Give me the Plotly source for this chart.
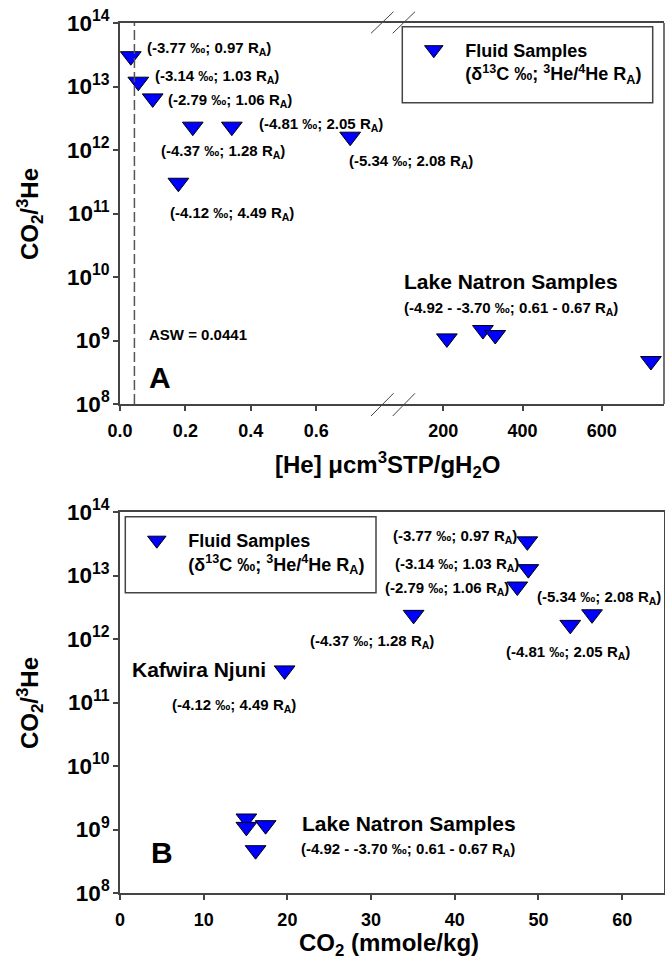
import plotly.graph_objects as go

# ---------------- data ----------------
# Panel A: [He] (ucm3STP/gH2O) vs CO2/3He
he_fluid = [0.033, 0.056, 0.100, 0.2226, 0.342, 0.1786, 0.704]
ratio_fluid_a = [3.0e13, 1.19e13, 6.5e12, 2.33e12, 2.33e12, 3.05e11, 1.62e12]
he_natron = [209, 300, 331, 724]
ratio_natron_a = [1.08e9, 1.46e9, 1.22e9, 4.75e8]
asw_he = 0.0441
he_ticks_left = [0.0, 0.2, 0.4, 0.6]
he_ticks_right = [200, 400, 600]

# Panel B: CO2 (mmole/kg) vs CO2/3He
co2_fluid = [48.67, 48.79, 47.47, 35.08, 56.4, 53.8, 19.67]
ratio_fluid_b = [3.45e13, 1.26e13, 6.7e12, 2.4e12, 2.45e12, 1.67e12, 3.2e11]
co2_natron = [15.1, 15.1, 17.4, 16.2]
ratio_natron_b = [1.49e9, 1.1e9, 1.17e9, 4.72e8]

SUBA = "R<sub>A</sub>"
# labels
labels_a = [f"(-3.77 ‰; 0.97 {SUBA})", f"(-3.14 ‰; 1.03 {SUBA})",
            f"(-2.79 ‰; 1.06 {SUBA})", f"(-4.81 ‰; 2.05 {SUBA})",
            f"(-4.37 ‰; 1.28 {SUBA})", f"(-4.12 ‰; 4.49 {SUBA})",
            f"(-5.34 ‰; 2.08 {SUBA})"]
labels_b = [f"(-3.77 ‰; 0.97 {SUBA})", f"(-3.14 ‰; 1.03 {SUBA})",
            f"(-2.79 ‰; 1.06 {SUBA})", f"(-5.34 ‰; 2.08 {SUBA})",
            f"(-4.37 ‰; 1.28 {SUBA})", f"(-4.81 ‰; 2.05 {SUBA})",
            f"(-4.12 ‰; 4.49 {SUBA})"]
natron_title = "Lake Natron Samples"
natron_range = f"(-4.92 - -3.70 ‰; 0.61 - 0.67 {SUBA})"
legend_text = "Fluid Samples<br>(δ<sup>13</sup>C ‰; <sup>3</sup>He/<sup>4</sup>He R<sub>A</sub>)"

# ---------------- layout helpers ----------------
W, H = 665, 962
L, R = 120, 1
PW = W - L - R


def px(x):
    return (x - L) / PW


def py(y):
    return 1 - y / H


FONT = "Liberation Sans, Arial, sans-serif"
AX = "#444444"
BLUE = "#0000FF"

marker = dict(symbol="triangle-down", size=18, color=BLUE,
              line=dict(color="black", width=1))

fig = go.Figure()
fig.add_trace(go.Scatter(x=he_fluid, y=ratio_fluid_a, mode="markers", marker=marker,
                         xaxis="x", yaxis="y", name=legend_text, legend="legend"))
fig.add_trace(go.Scatter(x=he_natron, y=ratio_natron_a, mode="markers", marker=marker,
                         xaxis="x2", yaxis="y", showlegend=False))
fig.add_trace(go.Scatter(x=co2_fluid, y=ratio_fluid_b, mode="markers", marker=marker,
                         xaxis="x3", yaxis="y2", name=legend_text, legend="legend2"))
fig.add_trace(go.Scatter(x=co2_natron, y=ratio_natron_b, mode="markers", marker=marker,
                         xaxis="x3", yaxis="y2", showlegend=False))

split = px(393)
ydom_a = [py(404), py(23)]
ydom_b = [py(893), py(512)]

tickfont = dict(family=FONT, size=18, color="black", weight="bold")
common_x = dict(showgrid=False, zeroline=False, showline=True, linecolor=AX, linewidth=1.5,
                ticks="outside", ticklen=5, tickcolor=AX, tickwidth=1.5, tickfont=tickfont,
                ticklabelstandoff=5)
common_y = dict(type="log", range=[8, 14], dtick=1, exponentformat="power",
                showgrid=False, zeroline=False, showline=True, linecolor=AX, linewidth=1.5,
                ticks="outside", ticklen=5, tickcolor=AX, tickwidth=1.5, tickfont=tickfont)

fig.update_layout(
    width=W, height=H,
    margin=dict(l=L, r=R, t=0, b=0, autoexpand=False),
    paper_bgcolor="white", plot_bgcolor="white",
    font=dict(family=FONT, color="black", weight="bold"),
    xaxis=dict(domain=[0, split], range=[0, 0.835], tickmode="array", tickvals=he_ticks_left,
               tickformat=".1f", anchor="y", mirror=True, **common_x),
    xaxis2=dict(domain=[split, 1], range=[73, 757], tickmode="array", tickvals=he_ticks_right,
                anchor="y", mirror=True, **common_x),
    xaxis3=dict(domain=[0, 1], range=[0, 65], dtick=10, tick0=0,
                anchor="y2", mirror=True, **common_x),
    yaxis=dict(domain=ydom_a, anchor="x", **common_y),
    yaxis2=dict(domain=ydom_b, anchor="x3", mirror=True, **common_y),
    legend=dict(x=px(402.3), y=py(31.5), xanchor="left", yanchor="top",
                bgcolor="rgba(0,0,0,0)", borderwidth=0, itemwidth=53, valign="top",
                font=dict(family=FONT, size=18, color="black", weight="bold")),
    legend2=dict(x=px(125.3), y=py(522), xanchor="left", yanchor="top",
                 bgcolor="rgba(0,0,0,0)", borderwidth=0, itemwidth=53, valign="top",
                 font=dict(family=FONT, size=18, color="black", weight="bold")),
)

shapes = []
# legend boxes
shapes.append(dict(type="rect", xref="paper", yref="paper", x0=px(402.3), x1=px(652.7),
                   y0=py(102.7), y1=py(26.7), line=dict(color=AX, width=1.5)))
shapes.append(dict(type="rect", xref="paper", yref="paper", x0=px(125.3), x1=px(376),
                   y0=py(592.7), y1=py(516.7), line=dict(color=AX, width=1.5)))
# right border of panel A
shapes.append(dict(type="line", xref="paper", yref="paper", x0=1, x1=1,
                   y0=ydom_a[0], y1=ydom_a[1], line=dict(color=AX, width=1.5)))
# axis break marks
for (ya, yb) in [(33.3, 11.7), (416, 393.3)]:
    for (xa, xb) in [(371, 393.5), (392.7, 415)]:
        shapes.append(dict(type="line", xref="paper", yref="paper", x0=px(xa), x1=px(xb),
                           y0=py(ya), y1=py(yb), line=dict(color=AX, width=1)))
# ASW dashed line
shapes.append(dict(type="line", xref="x", yref="y domain", x0=asw_he, x1=asw_he, y0=0, y1=1,
                   line=dict(color="#555555", width=1.5, dash="10px,4px")))
fig.update_layout(shapes=shapes)

ann = []
lab_font = dict(family=FONT, size=15, color="black", weight="bold")
big_font = dict(family=FONT, size=21, color="black", weight="bold")
pos_a = [(0.0765, 13.606), (0.100, 13.165), (0.140, 12.787), (0.418, 12.394),
         (0.120, 11.973), (0.148, 11.003), (0.693, 11.816)]
for t, (x, y) in zip(labels_a, pos_a):
    ann.append(dict(text=t, x=x, y=y, xref="x", yref="y", xanchor="left", yanchor="middle",
                    showarrow=False, font=lab_font))
pos_b = [(32.34, 13.616), (32.58, 13.181), (31.46, 12.803), (49.62, 12.646),
         (22.5, 11.962), (45.88, 11.789), (5.97, 10.95)]
for t, (x, y) in zip(labels_b, pos_b):
    ann.append(dict(text=t, x=x, y=y, xref="x3", yref="y2", xanchor="left", yanchor="middle",
                    showarrow=False, font=lab_font))
# Lake Natron labels
ann.append(dict(text=natron_title, x=95, y=9.926, xref="x2", yref="y", xanchor="left",
                yanchor="middle", showarrow=False, font=big_font))
ann.append(dict(text=natron_range, x=95, y=9.507, xref="x2", yref="y", xanchor="left",
                yanchor="middle", showarrow=False, font=lab_font))
ann.append(dict(text=natron_title, x=21.5, y=9.102, xref="x3", yref="y2", xanchor="left",
                yanchor="middle", showarrow=False, font=big_font))
ann.append(dict(text=natron_range, x=21.4, y=8.682, xref="x3", yref="y2", xanchor="left",
                yanchor="middle", showarrow=False, font=lab_font))
ann.append(dict(text="Kafwira Njuni", x=1.195, y=11.517, xref="x3", yref="y2", xanchor="left",
                yanchor="middle", showarrow=False, font=big_font))
ann.append(dict(text="ASW = 0.0441", x=0.0817, y=9.087, xref="x", yref="y", xanchor="left",
                yanchor="middle", showarrow=False, font=lab_font))
# panel letters
ann.append(dict(text="A", x=0.1223, y=8.425, xref="x", yref="y", xanchor="center",
                yanchor="middle", showarrow=False,
                font=dict(family=FONT, size=30, color="black", weight="bold")))
ann.append(dict(text="B", x=5.02, y=8.635, xref="x3", yref="y2", xanchor="center",
                yanchor="middle", showarrow=False,
                font=dict(family=FONT, size=30, color="black", weight="bold")))
# axis titles
title_font = dict(family=FONT, size=24, color="black", weight="bold")
ann.append(dict(text="[He] μcm<sup>3</sup>STP/gH<sub>2</sub>O", x=px(387.5), y=py(465),
                xref="paper", yref="paper", xanchor="center", yanchor="middle",
                showarrow=False, font=title_font))
ann.append(dict(text="CO<sub>2</sub> (mmole/kg)", x=px(389), y=py(944),
                xref="paper", yref="paper", xanchor="center", yanchor="middle",
                showarrow=False, font=title_font))
for yc in [214, 703]:
    ann.append(dict(text="CO<sub>2</sub>/<sup>3</sup>He", x=px(30), y=py(yc),
                    xref="paper", yref="paper", xanchor="center", yanchor="middle",
                    textangle=-90, showarrow=False, font=title_font))
fig.update_layout(annotations=ann)

fig.write_html("out.html")
